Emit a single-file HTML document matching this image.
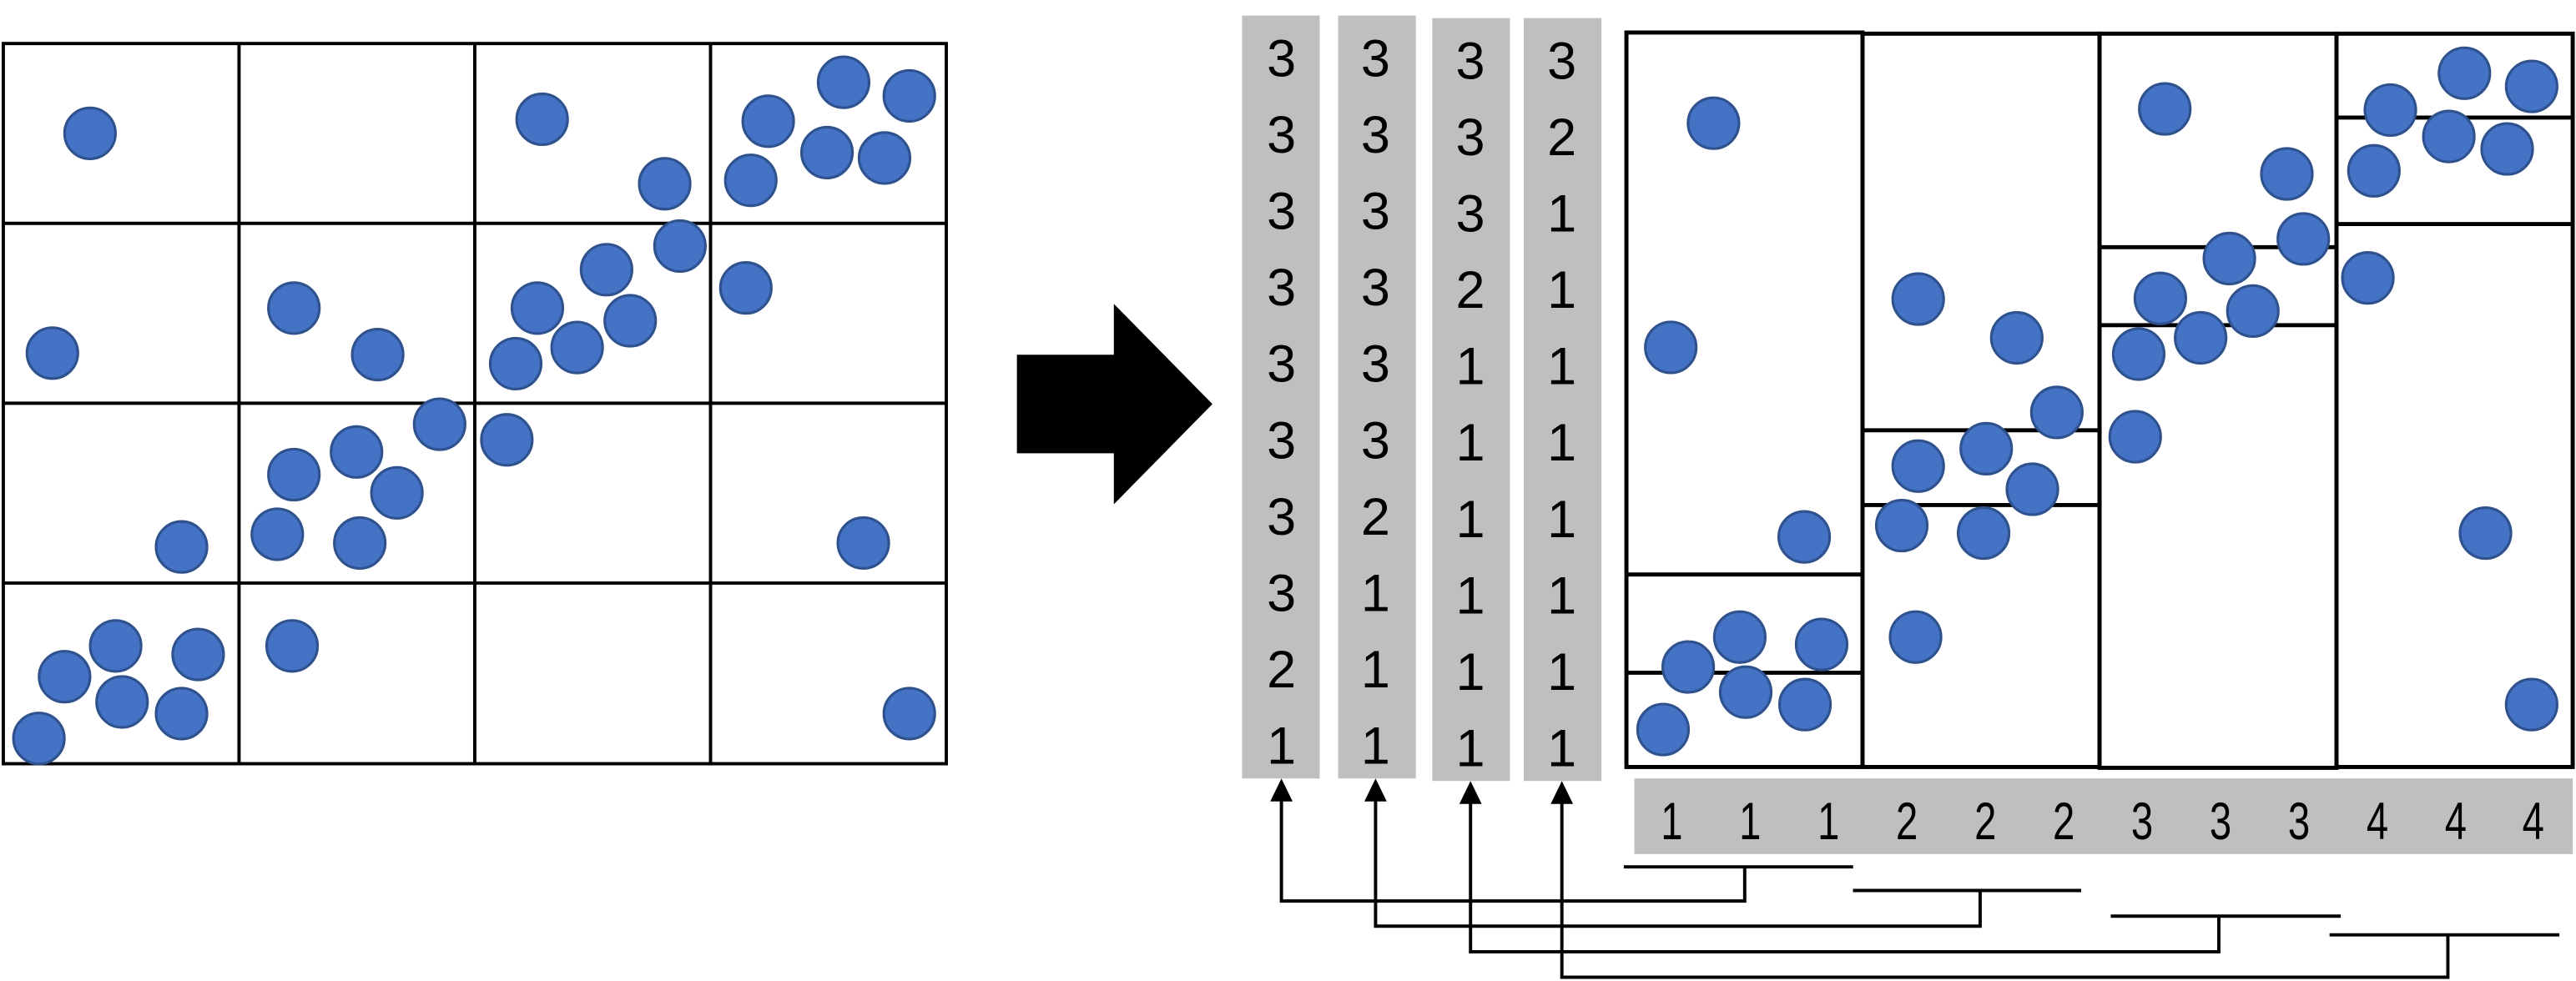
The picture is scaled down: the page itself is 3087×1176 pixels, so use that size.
<!DOCTYPE html>
<html><head><meta charset="utf-8"><style>
html,body{margin:0;padding:0;background:#fff;}
svg{display:block;}
text{font-family:"Liberation Sans",sans-serif;fill:#000;}
</style></head><body>
<svg width="3087" height="1176" viewBox="0 0 1568 597.3" preserveAspectRatio="none" xmlns="http://www.w3.org/2000/svg">
<!-- left grid -->
<g stroke="#000" stroke-width="2" fill="none">
<rect x="2" y="26.5" width="574" height="438.5"/>
<line x1="145.5" y1="26.5" x2="145.5" y2="465"/>
<line x1="289" y1="26.5" x2="289" y2="465"/>
<line x1="432.5" y1="26.5" x2="432.5" y2="465"/>
<line x1="2" y1="136" x2="576" y2="136"/>
<line x1="2" y1="245.5" x2="576" y2="245.5"/>
<line x1="2" y1="355" x2="576" y2="355"/>
</g>
<g fill="#4472C4" stroke="#2F528F" stroke-width="1.6">
<circle cx="54.8" cy="81.2" r="15.5"/><circle cx="330" cy="72.6" r="15.5"/><circle cx="404.6" cy="111.9" r="15.5"/>
<circle cx="513.5" cy="50.1" r="15.5"/><circle cx="553.5" cy="58.4" r="15.5"/><circle cx="467.6" cy="73.8" r="15.5"/>
<circle cx="503.4" cy="92.9" r="15.5"/><circle cx="538.4" cy="96.2" r="15.5"/><circle cx="457" cy="109.8" r="15.5"/>
<circle cx="413.9" cy="149.8" r="15.5"/><circle cx="369.2" cy="164.2" r="15.5"/><circle cx="327.1" cy="187.6" r="15.5"/>
<circle cx="383.6" cy="195.3" r="15.5"/><circle cx="351.3" cy="211.6" r="15.5"/><circle cx="313.9" cy="221.4" r="15.5"/>
<circle cx="454" cy="175.3" r="15.5"/><circle cx="31.9" cy="215" r="15.5"/><circle cx="178.9" cy="187.6" r="15.5"/>
<circle cx="229.9" cy="215.9" r="15.5"/><circle cx="267.6" cy="258.3" r="15.5"/><circle cx="308.5" cy="267.8" r="15.5"/>
<circle cx="217" cy="275.2" r="15.5"/><circle cx="178.9" cy="289" r="15.5"/><circle cx="241.6" cy="300.1" r="15.5"/>
<circle cx="168.8" cy="325.3" r="15.5"/><circle cx="219" cy="330.6" r="15.5"/><circle cx="110.5" cy="333" r="15.5"/>
<circle cx="525.5" cy="330.6" r="15.5"/><circle cx="70.4" cy="393.3" r="15.5"/><circle cx="120.6" cy="398.5" r="15.5"/>
<circle cx="39.3" cy="412" r="15.5"/><circle cx="74.3" cy="427.4" r="15.5"/><circle cx="110.5" cy="434.5" r="15.5"/>
<circle cx="23.7" cy="449.6" r="15.5"/><circle cx="177.8" cy="393.3" r="15.5"/><circle cx="553.5" cy="434.5" r="15.5"/>
</g>
<!-- big arrow -->
<polygon points="619,216 678,216 678,185 738,246 678,307 678,276 619,276" fill="#000"/>
<!-- gray columns -->
<g fill="#BFBFBF">
<rect x="756" y="9.5" width="47.3" height="464.5"/>
<rect x="814.5" y="9.5" width="47.3" height="464.5"/>
<rect x="871.8" y="11" width="47.3" height="464.5"/>
<rect x="927.5" y="11" width="47.3" height="464.5"/>
<rect x="994.8" y="474" width="571.2" height="46"/>
</g>
<g font-size="32" text-anchor="middle">
<g transform="translate(780,0)">
<text y="46.5">3</text><text y="93">3</text><text y="139.5">3</text><text y="186">3</text><text y="232.5">3</text><text y="279">3</text><text y="325.5">3</text><text y="372">3</text><text y="418.5">2</text><text y="465">1</text>
</g>
<g transform="translate(837.3,0)">
<text y="46.5">3</text><text y="93">3</text><text y="139.5">3</text><text y="186">3</text><text y="232.5">3</text><text y="279">3</text><text y="325.5">2</text><text y="372">1</text><text y="418.5">1</text><text y="465">1</text>
</g>
<g transform="translate(895,1.5)">
<text y="46.5">3</text><text y="93">3</text><text y="139.5">3</text><text y="186">2</text><text y="232.5">1</text><text y="279">1</text><text y="325.5">1</text><text y="372">1</text><text y="418.5">1</text><text y="465">1</text>
</g>
<g transform="translate(950.7,1.5)">
<text y="46.5">3</text><text y="93">2</text><text y="139.5">1</text><text y="186">1</text><text y="232.5">1</text><text y="279">1</text><text y="325.5">1</text><text y="372">1</text><text y="418.5">1</text><text y="465">1</text>
</g>
</g>
<g font-size="32" text-anchor="middle">
<text transform="translate(1017.6,511) scale(0.75,1)">1</text>
<text transform="translate(1065.3,511) scale(0.75,1)">1</text>
<text transform="translate(1113,511) scale(0.75,1)">1</text>
<text transform="translate(1160.7,511) scale(0.75,1)">2</text>
<text transform="translate(1208.5,511) scale(0.75,1)">2</text>
<text transform="translate(1256.2,511) scale(0.75,1)">2</text>
<text transform="translate(1303.9,511) scale(0.75,1)">3</text>
<text transform="translate(1351.6,511) scale(0.75,1)">3</text>
<text transform="translate(1399.4,511) scale(0.75,1)">3</text>
<text transform="translate(1447.1,511) scale(0.75,1)">4</text>
<text transform="translate(1494.8,511) scale(0.75,1)">4</text>
<text transform="translate(1542,511) scale(0.75,1)">4</text>
</g>
<!-- right boxes -->
<g stroke="#000" stroke-width="2.5" fill="none">
<rect x="990" y="19.8" width="143.7" height="447.2"/>
<rect x="1133.7" y="20.5" width="144.3" height="446.5"/>
<rect x="1278" y="20.5" width="144.2" height="447"/>
<rect x="1422.2" y="20.5" width="143.8" height="446.5"/>
<line x1="990" y1="349.8" x2="1133.7" y2="349.8"/>
<line x1="990" y1="409.6" x2="1133.7" y2="409.6"/>
<line x1="1133.7" y1="262" x2="1278" y2="262"/>
<line x1="1133.7" y1="307.5" x2="1278" y2="307.5"/>
<line x1="1278" y1="150.5" x2="1422.2" y2="150.5"/>
<line x1="1278" y1="198" x2="1422.2" y2="198"/>
<line x1="1422.2" y1="71.6" x2="1566" y2="71.6"/>
<line x1="1422.2" y1="136.4" x2="1566" y2="136.4"/>
</g>
<g fill="#4472C4" stroke="#2F528F" stroke-width="1.6">
<circle cx="1043" cy="75" r="15.5"/><circle cx="1017" cy="211.5" r="15.5"/><circle cx="1098.2" cy="326.9" r="15.5"/>
<circle cx="1059" cy="387.9" r="15.5"/><circle cx="1108.8" cy="392.4" r="15.5"/><circle cx="1027.6" cy="406.1" r="15.5"/>
<circle cx="1062.6" cy="421.4" r="15.5"/><circle cx="1098.7" cy="429" r="15.5"/><circle cx="1012.3" cy="444.2" r="15.5"/>
<circle cx="1167.6" cy="182.1" r="15.5"/><circle cx="1227.6" cy="205.7" r="15.5"/><circle cx="1252" cy="251.1" r="15.5"/>
<circle cx="1209" cy="273.2" r="15.5"/><circle cx="1167.6" cy="283.8" r="15.5"/><circle cx="1237.1" cy="297.9" r="15.5"/>
<circle cx="1157.6" cy="320" r="15.5"/><circle cx="1207.4" cy="324.6" r="15.5"/><circle cx="1166" cy="387.9" r="15.5"/>
<circle cx="1317.7" cy="66.3" r="15.5"/><circle cx="1392" cy="105.9" r="15.5"/><circle cx="1402" cy="145.5" r="15.5"/>
<circle cx="1357" cy="157.4" r="15.5"/><circle cx="1315" cy="181.7" r="15.5"/><circle cx="1371.3" cy="189.4" r="15.5"/>
<circle cx="1339.5" cy="205.7" r="15.5"/><circle cx="1301.8" cy="215.6" r="15.5"/><circle cx="1299.7" cy="265.9" r="15.5"/>
<circle cx="1500.1" cy="44.6" r="15.5"/><circle cx="1541" cy="52.6" r="15.5"/><circle cx="1455" cy="67" r="15.5"/>
<circle cx="1490.6" cy="83.1" r="15.5"/><circle cx="1526.1" cy="90.7" r="15.5"/><circle cx="1445" cy="104" r="15.5"/>
<circle cx="1441.3" cy="169.2" r="15.5"/><circle cx="1512.9" cy="324.6" r="15.5"/><circle cx="1541" cy="429" r="15.5"/>
</g>
<!-- connectors -->
<g stroke="#000" stroke-width="2" fill="none">
<line x1="988.4" y1="527.8" x2="1128" y2="527.8"/>
<polyline points="1062,527.8 1062,548.6 780,548.6 780,486"/>
<line x1="1127.9" y1="542.2" x2="1266.8" y2="542.2"/>
<polyline points="1205.3,542.2 1205.3,563.9 837.3,563.9 837.3,486"/>
<line x1="1284.8" y1="557.8" x2="1424.8" y2="557.8"/>
<polyline points="1350.6,557.8 1350.6,579.5 895.1,579.5 895.1,488"/>
<line x1="1418" y1="569.2" x2="1557.9" y2="569.2"/>
<polyline points="1490,569.2 1490,595 950.7,595 950.7,488"/>
</g>
<g fill="#000">
<polygon points="780,474 773.2,488 786.8,488"/>
<polygon points="837.3,474 830.5,488 844.1,488"/>
<polygon points="895.1,475.5 888.3,489.5 901.9,489.5"/>
<polygon points="950.7,475.5 943.9,489.5 957.5,489.5"/>
</g>
</svg>
</body></html>
